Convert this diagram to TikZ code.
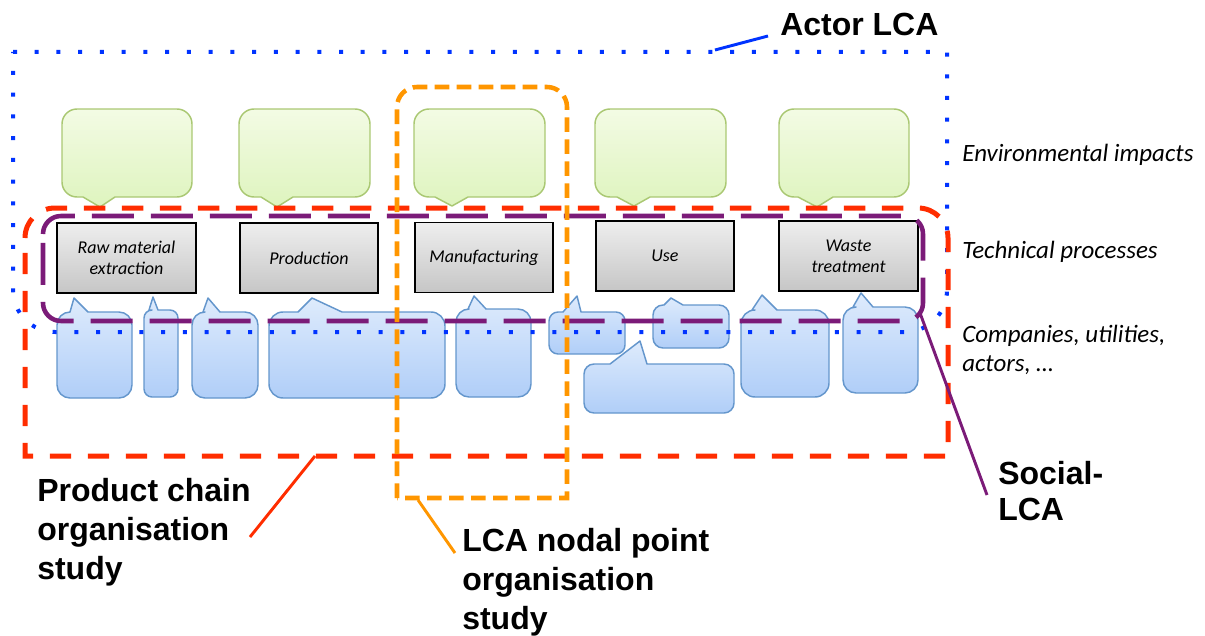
\documentclass[tikz,border=0pt]{standalone}
\usepackage{fontspec}
\setmainfont{Carlito}
\newfontfamily\lsans{Liberation Sans}
\usetikzlibrary{calc}
\definecolor{bluedot}{RGB}{0,51,255}
\definecolor{redd}{RGB}{255,45,0}
\definecolor{purp}{RGB}{123,27,120}
\definecolor{orng}{RGB}{255,150,0}
\definecolor{gtop}{RGB}{243,251,228}
\definecolor{gbot}{RGB}{222,244,190}
\definecolor{gline}{RGB}{170,200,115}
\definecolor{btop}{RGB}{222,235,252}
\definecolor{bbot}{RGB}{176,206,248}
\definecolor{bline}{RGB}{100,150,204}
\definecolor{ptop}{RGB}{238,238,238}
\definecolor{pbot}{RGB}{198,198,198}
\tikzset{
  greencall/.style={draw=gline, line width=1.1pt, top color=gtop, bottom color=gbot, line join=round},
  bluecall/.style={draw=bline, line width=1.1pt, top color=btop, bottom color=bbot, line join=round},
  procbox/.style={draw=black, line width=1.3pt, top color=ptop, bottom color=pbot, minimum width=104pt, minimum height=52.5pt, inner sep=0pt, align=center, font=\fontsize{13.5}{15.5}\selectfont\itshape},
  actorline/.style={draw=bluedot, line width=3pt, dash pattern=on 3pt off 13.3pt},
  chainline/.style={draw=redd, line width=3.75pt, dash pattern=on 16pt off 12.5pt},
  socialline/.style={draw=purp, line width=3.4pt, dash pattern=on 31.5pt off 12.75pt},
  nodalline/.style={draw=orng, line width=3.4pt, dash pattern=on 11pt off 5.5pt},
  biglabel/.style={font=\lsans\bfseries\fontsize{24}{29.25}\selectfont, align=left, inner sep=0pt},
  sidelabel/.style={font=\fontsize{18.7}{22}\selectfont\itshape, align=left, inner sep=0pt, anchor=west},
  leader/.style={line width=2.2pt}
}
\newcommand{\greencallout}[9]{\path[greencall] (#1+#5,#2) -- (#3-#5,#2) arc[start angle=-90,end angle=0,radius=#5] -- (#3,#4-#5) arc[start angle=0,end angle=90,radius=#5] -- (#7,#4) -- (#8,#9) -- (#6,#4) -- (#1+#5,#4) arc[start angle=90,end angle=180,radius=#5] -- (#1,#2+#5) arc[start angle=180,end angle=270,radius=#5] -- cycle;}
\newcommand{\bluecallout}[9]{\path[bluecall] (#1+#5,#2) -- (#6,#2) -- (#8,#9) -- (#7,#2) -- (#3-#5,#2) arc[start angle=-90,end angle=0,radius=#5] -- (#3,#4-#5) arc[start angle=0,end angle=90,radius=#5] -- (#1+#5,#4) arc[start angle=90,end angle=180,radius=#5] -- (#1,#2+#5) arc[start angle=180,end angle=270,radius=#5] -- cycle;}
\begin{document}
\begin{tikzpicture}[x=0.75pt,y=-0.75pt]
\path[use as bounding box] (0,0) rectangle (1205,635);
% green callouts (environmental impacts)
\greencallout{62}{109}{192}{197}{15}{83}{115}{100}{207}
\greencallout{239}{109}{370}{197}{15}{261}{293}{277}{207}
\greencallout{414}{109}{545}{197}{15}{435}{468}{452}{206}
\greencallout{595}{109}{726}{197}{15}{617}{650}{634}{206}
\greencallout{779}{109}{909}{197}{15}{798}{833}{817}{207}
% blue callouts (companies)
\bluecallout{57}{312}{132}{398}{13}{70}{88}{74}{298}
\bluecallout{144}{310}{178}{397}{8}{149}{158}{153}{297}
\bluecallout{192}{312}{258}{398}{13}{203}{220}{208}{298}
\bluecallout{269}{312}{445}{398}{14}{298}{342}{312}{298}
\bluecallout{456}{309}{531}{397}{13}{468}{486}{474}{296}
\bluecallout{549}{312}{625}{354}{9}{563}{581}{577}{296}
\bluecallout{653}{305}{729}{348}{10}{664}{683}{671}{298}
\bluecallout{584}{364}{734}{413}{10}{610}{647}{640}{341}
\bluecallout{741}{310}{829}{397}{14}{752}{777}{762}{295}
\bluecallout{843}{307}{918}{393}{13}{853}{873}{861}{293}
% technical processes
\node[procbox] (raw) at (126.5,258) {Raw material\\extraction};
\node[procbox] (prod) at (309,258) {Production};
\node[procbox] (manu) at (484,257.5) {Manufacturing};
\node[procbox] (use) at (665,256) {Use};
\node[procbox] (waste) at (848.5,256) {Waste\\treatment};
% Actor LCA boundary
\path[actorline] (13,52) -- (947,52) -- (947,290) arc[start angle=0,end angle=90,radius=42] -- (55,332) arc[start angle=90,end angle=180,radius=42] -- cycle;
% Product chain boundary
\path[chainline] (25,238) arc[start angle=180,end angle=270,radius=30] -- (918,208) arc[start angle=-90,end angle=0,radius=30] -- (948,456) -- (25,456) -- cycle;
% Social LCA boundary
\path[socialline] (43,234) arc[start angle=180,end angle=270,radius=18] -- (905,216) arc[start angle=-90,end angle=0,radius=18] -- (923,303) arc[start angle=0,end angle=90,radius=18] -- (61,321) arc[start angle=90,end angle=180,radius=18] -- cycle;
% LCA nodal point boundary
\path[nodalline] (397,498) -- (397,107) arc[start angle=180,end angle=270,radius=20] -- (547,87) arc[start angle=-90,end angle=0,radius=20] -- (567,498) -- cycle;
% labels
\node[biglabel, anchor=west] (actor) at (780,24) {Actor LCA};
\node[biglabel, anchor=west] (chain) at (37,532) {Product chain\\organisation\\study};
\node[biglabel, anchor=west] (nodal) at (462,582) {LCA nodal point\\organisation\\study};
\node[biglabel, anchor=west, font=\lsans\bfseries\fontsize{24}{27.5}\selectfont] (social) at (998,491) {Social-\\LCA};
\node[sidelabel] (env) at (962,155) {Environmental impacts};
\node[sidelabel] (tech) at (962,252) {Technical processes};
\node[sidelabel] (comp) at (962,350) {Companies, utilities,\\actors, …};
% leaders
\coordinate (a1) at (715,50); \coordinate (a2) at (768,36);
\coordinate (c1) at (315,456); \coordinate (c2) at (250,537);
\coordinate (n1) at (418,500); \coordinate (n2) at (455,553);
\coordinate (s1) at (920,313); \coordinate (s2) at (987,495);
\draw[leader, bluedot] (a1) -- (a2);
\draw[leader, redd] (c1) -- (c2);
\draw[leader, orng] (n1) -- (n2);
\draw[leader, purp] (s1) -- (s2);
\end{tikzpicture}
\end{document}
